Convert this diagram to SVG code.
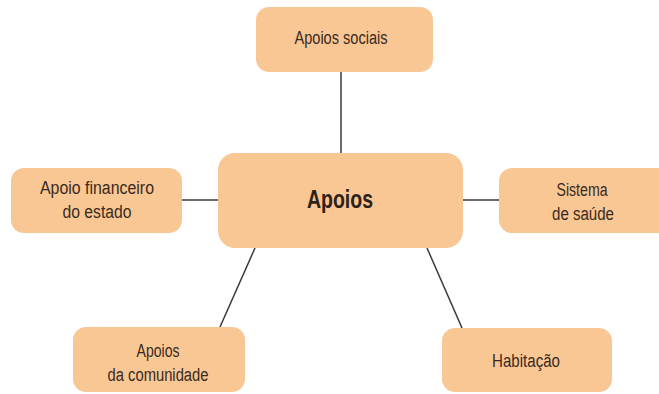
<svg xmlns="http://www.w3.org/2000/svg" width="659" height="394" viewBox="0 0 659 394">
  <style>
    .box { fill: #f9c794; }
    .lbl { font-family: "Liberation Sans", Arial, sans-serif; font-size: 18px; fill: #3a2a20; text-anchor: middle; }
    .main { font-family: "Liberation Sans", Arial, sans-serif; font-size: 26px; font-weight: bold; fill: #2e211a; text-anchor: middle; }
    .link { stroke: #3a3a3a; stroke-width: 1.5; fill: none; }
  </style>
  <rect width="659" height="394" fill="#ffffff"/>

  <!-- connectors -->
  <g id="connectors">
    <line class="link" x1="341" y1="72" x2="341" y2="153"/>
    <line class="link" x1="182" y1="200" x2="218" y2="200"/>
    <line class="link" x1="463" y1="200" x2="499" y2="200"/>
    <line class="link" x1="255" y1="248" x2="220" y2="327"/>
    <line class="link" x1="427" y1="248" x2="462" y2="328"/>
  </g>

  <g id="apoios">
    <rect class="box" x="218" y="153" width="245" height="95" rx="17"/>
    <text class="main" x="340" y="208" textLength="66" lengthAdjust="spacingAndGlyphs">Apoios</text>
  </g>

  <g id="apoios-sociais">
    <rect class="box" x="256" y="7" width="177" height="65" rx="13"/>
    <text class="lbl" x="341" y="44" textLength="93" lengthAdjust="spacingAndGlyphs">Apoios sociais</text>
  </g>

  <g id="apoio-financeiro">
    <rect class="box" x="11" y="168" width="171" height="65" rx="13"/>
    <text class="lbl" x="97" y="194" textLength="114" lengthAdjust="spacingAndGlyphs">Apoio financeiro</text>
    <text class="lbl" x="97" y="218" textLength="69" lengthAdjust="spacingAndGlyphs">do estado</text>
  </g>

  <g id="sistema-saude">
    <rect class="box" x="499" y="168" width="172" height="65" rx="13"/>
    <text class="lbl" x="582" y="196" textLength="51" lengthAdjust="spacingAndGlyphs">Sistema</text>
    <text class="lbl" x="583" y="220" textLength="62" lengthAdjust="spacingAndGlyphs">de saúde</text>
  </g>

  <g id="apoios-comunidade">
    <rect class="box" x="73" y="327" width="172" height="65" rx="13"/>
    <text class="lbl" x="158" y="357" textLength="43" lengthAdjust="spacingAndGlyphs">Apoios</text>
    <text class="lbl" x="158" y="381" textLength="101" lengthAdjust="spacingAndGlyphs">da comunidade</text>
  </g>

  <g id="habitacao">
    <rect class="box" x="442" y="328" width="170" height="64" rx="13"/>
    <text class="lbl" x="526" y="367" textLength="68" lengthAdjust="spacingAndGlyphs">Habitação</text>
  </g>
</svg>
